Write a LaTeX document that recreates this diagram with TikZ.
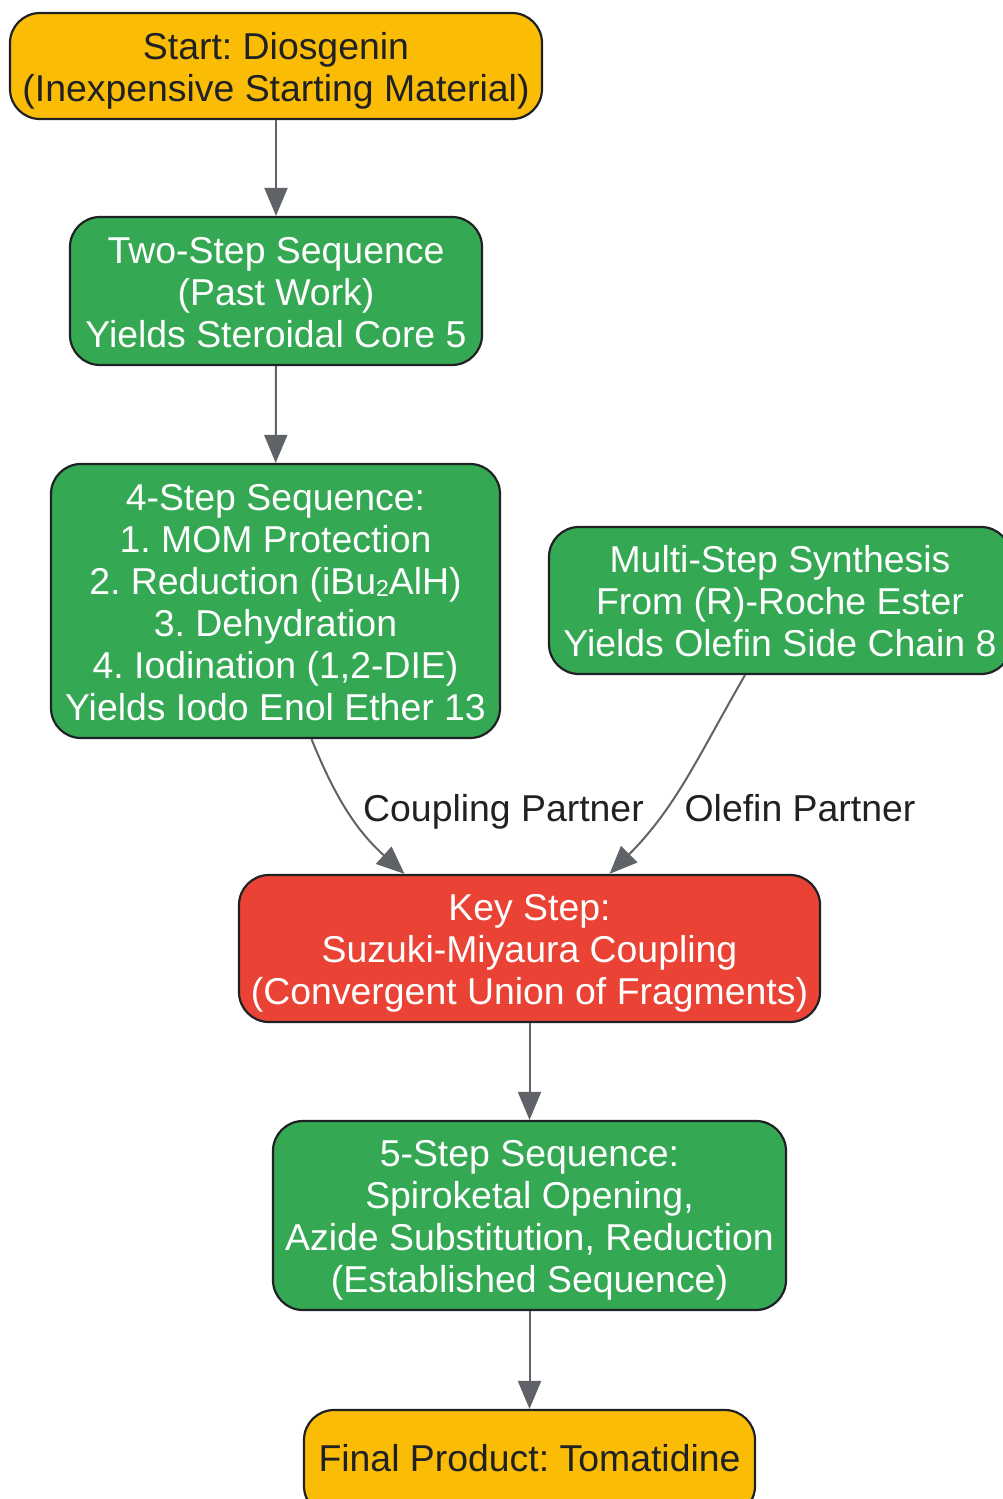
\documentclass[tikz,border=0pt]{standalone}
\usepackage{fontspec}
\setmainfont{Liberation Sans}
\usetikzlibrary{arrows.meta}
\frenchspacing
\definecolor{ylw}{HTML}{FBBC05}
\definecolor{grn}{HTML}{34A853}
\definecolor{rd}{HTML}{EA4335}
\definecolor{ink}{HTML}{202124}
\definecolor{edgec}{HTML}{5F6368}
\newcommand{\boxtext}[2][5.6pt]{\raisebox{-#1}[\height][\depth]{\begin{tabular}{@{}c@{}}#2\end{tabular}}}
\tikzset{
  box/.style={draw=ink, line width=2.2pt, rounded corners=30pt, align=center, inner sep=0pt,
    font=\fontsize{37.4}{42}\selectfont},
  startbox/.style={box, fill=ylw, text=ink},
  greenbox/.style={box, fill=grn, text=white},
  redbox/.style={box, fill=rd, text=white},
  conn/.style={draw=edgec, line width=2pt, -{Triangle[length=28pt,width=23pt]}},
  lbl/.style={text=ink, inner sep=0pt, anchor=base, font=\fontsize{37.4}{42}\selectfont}
}
\begin{document}
\begin{tikzpicture}[x=1pt,y=-1pt]
\useasboundingbox (0,0) rectangle (1003,1499);
\node[startbox, minimum width=532pt, minimum height=106pt] (start) at (276,66)
  {\boxtext{Start: Diosgenin\\(Inexpensive Starting Material)}};
\node[greenbox, minimum width=412pt, minimum height=148pt] (two) at (276,291)
  {\boxtext{Two-Step Sequence\\(Past Work)\\Yields Steroidal Core 5}};
\node[greenbox, minimum width=449pt, minimum height=274pt] (four) at (275.5,601)
  {\boxtext{4-Step Sequence:\\1. MOM Protection\\2. Reduction (iBu\raisebox{-2pt}{\fontsize{23}{23}\selectfont 2}AlH)\\3. Dehydration\\4. Iodination (1,2-DIE)\\Yields Iodo Enol Ether 13}};
\node[greenbox, minimum width=462pt, minimum height=147pt] (multi) at (780,600.5)
  {\boxtext{Multi-Step Synthesis\\From (R)-Roche Ester\\Yields Olefin Side Chain 8}};
\node[redbox, minimum width=581pt, minimum height=147pt] (key) at (529.5,948.5)
  {\boxtext{Key Step:\\Suzuki-Miyaura Coupling\\(Convergent Union of Fragments)}};
\node[greenbox, minimum width=513pt, minimum height=189pt] (five) at (529.5,1215.5)
  {\boxtext{5-Step Sequence:\\Spiroketal Opening,\\Azide Substitution, Reduction\\(Established Sequence)}};
\node[startbox, minimum width=451pt, minimum height=106pt] (final) at (529.5,1463)
  {\boxtext[0pt]{Final Product: Tomatidine}};

\draw[conn] (start) -- (two);
\draw[conn] (two) -- (four);
\draw[conn] ([xshift=36pt]four.south) to[out=-68, in=138] ([xshift=-125pt]key.north);
\draw[conn] ([xshift=-35pt]multi.south) to[out=-120, in=45] ([xshift=80pt]key.north);
\draw[conn] (key) -- (five);
\draw[conn] (five) -- (final);

\node[lbl] (lc) at (503.5,821) {Coupling Partner};
\node[lbl] (lo) at (800,821) {Olefin Partner};
\end{tikzpicture}
\end{document}
